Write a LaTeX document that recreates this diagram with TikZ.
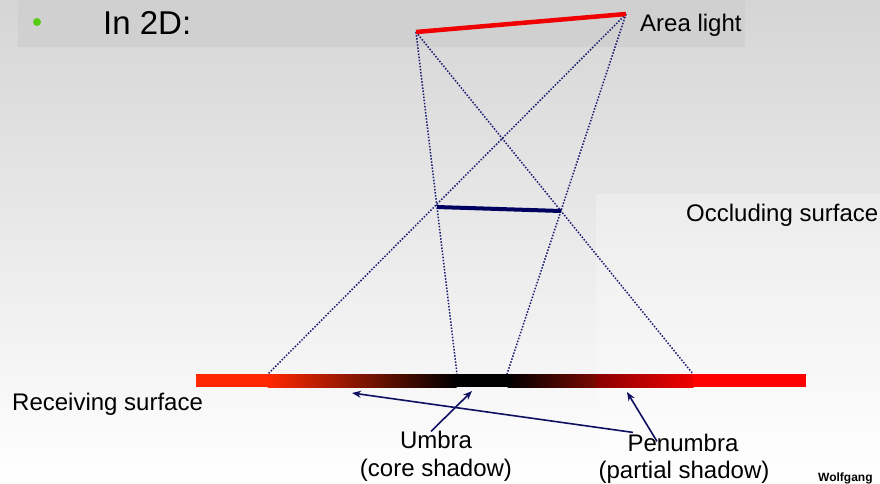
\documentclass[tikz,border=0pt]{standalone}
\usepackage{fontspec}
\setmainfont{Liberation Sans}
\usetikzlibrary{arrows.meta}
\definecolor{bgtop}{HTML}{D5D5D5}
\definecolor{bgbot}{HTML}{FFFFFF}
\definecolor{titlebar}{HTML}{D0D0D0}
\definecolor{lightred}{HTML}{F00000}
\definecolor{occnavy}{HTML}{000060}
\definecolor{raynavy}{HTML}{1A1A70}
\definecolor{arrnavy}{HTML}{101060}
\definecolor{bulletgreen}{HTML}{55CC11}
\definecolor{orred}{HTML}{FF2800}
\definecolor{darkred}{HTML}{7A0A00}
\definecolor{pdark}{HTML}{8A0000}
\definecolor{pred}{HTML}{F00000}
\tikzset{
  lbl/.style={inner sep=0pt, font=\fontsize{24}{28}\selectfont},
  ray/.style={raynavy, line width=1.5pt, dash pattern=on 1.5pt off 1.6pt},
  callout/.style={arrnavy, line width=1.6pt, -{Stealth[length=9pt,width=7pt]}},
}
\begin{document}
\begin{tikzpicture}[x=1pt,y=-1pt]
\useasboundingbox (0,0) rectangle (880,483);
% background
\shade[top color=bgtop, bottom color=bgbot] (0,0) rectangle (880,483);
\fill[titlebar] (18,0) rectangle (745,47);
\fill[white, opacity=0.25] (596,194) rectangle (880,483);
% title
\fill[bulletgreen] (37,22) circle (4);
\node[inner sep=0pt, anchor=base west, font=\fontsize{33}{36}\selectfont] (title) at (103,34) {In 2D:};
% geometry points
\coordinate (L1) at (416,32);
\coordinate (L2) at (626,14);
\coordinate (O1) at (437,207);
\coordinate (O2) at (561,211);
\coordinate (G1) at (457,374);
\coordinate (G2) at (507,374);
\coordinate (G3) at (268,374);
\coordinate (G4) at (693,374);
% receiving surface bar
\fill[orred] (196,374) rectangle (268,387);
\shade[left color=orred, right color=black] (267.5,374) rectangle (456.5,387);
\fill[black] (456,374) rectangle (508,387);
\shade[left color=black, right color=darkred] (507.5,374) rectangle (596,387);
\shade[left color=pdark, right color=pred] (596,374) rectangle (693.5,387);
\fill[red] (693,374) rectangle (806,387);
% rays
\draw[ray] (L1) -- (G1);
\draw[ray] (L1) -- (G4);
\draw[ray] (L2) -- (G3);
\draw[ray] (L2) -- (G2);
% light and occluder
\draw[lightred, line width=4.5pt] (L1) -- (L2);
\draw[occnavy, line width=4pt] (O1) -- (O2);
% labels
\node[lbl, anchor=base west] (arealight) at (640,31) {Area light};
\node[lbl, anchor=base west] (occluding) at (686,221) {Occluding surface};
\node[lbl, anchor=base west] (receiving) at (12,410) {Receiving surface};
\node[lbl, anchor=base] (umbra) at (436,448) {Umbra};
\node[lbl, anchor=base] (umbra2) at (436,476) {(core shadow)};
\node[lbl, anchor=base] (penumbra) at (683,451) {Penumbra};
\node[lbl, anchor=base] (penumbra2) at (684,478) {(partial shadow)};
\node[inner sep=0pt, anchor=base west, font=\bfseries\fontsize{12}{13}\selectfont] (author) at (818,481) {Wolfgang};
% callouts
\coordinate (TU) at (472,391);
\coordinate (TP1) at (627,392);
\coordinate (TP2) at (352,393);
\draw[callout] ([xshift=-5pt,yshift=-1pt]umbra.north) -- (TU);
\draw[callout] ([xshift=-26pt,yshift=-8pt]penumbra.north) -- (TP1);
\draw[callout] ([xshift=-50pt,yshift=1pt]penumbra.north) -- (TP2);
\end{tikzpicture}
\end{document}
